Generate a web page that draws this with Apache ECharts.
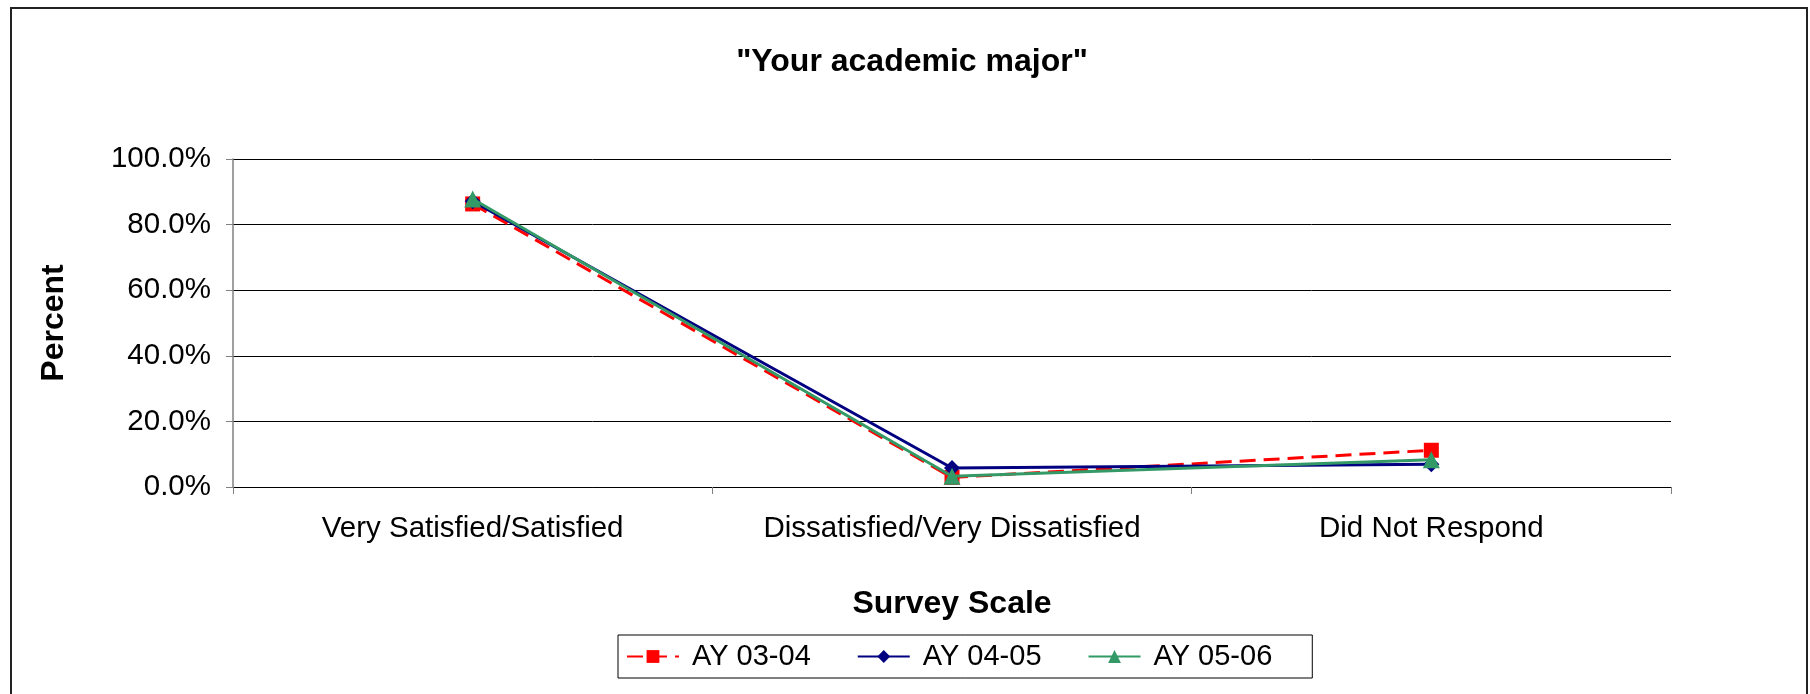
<!DOCTYPE html>
<html>
<head>
<meta charset="utf-8">
<script src="https://cdn.jsdelivr.net/npm/echarts@6/dist/echarts.min.js"></script>
<style>
  html, body { margin: 0; padding: 0; background: #fff; }
  #chart { width: 1810px; height: 694px; }
</style>
</head>
<body>
<div id="chart"></div>
<script>
// survey scale categories
const categories = ['Very Satisfied/Satisfied', 'Dissatisfied/Very Dissatisfied', 'Did Not Respond'];
// percent values per academic year
const ay0304 = [86.3, 2.9, 11.2];
const ay0405 = [87.1, 5.8, 6.9];
const ay0506 = [87.8, 3.3, 8.3];
const yTicks = [0, 20, 40, 60, 80, 100];

const font = '"Liberation Sans", Arial, sans-serif';

const chart = echarts.init(document.getElementById('chart'));

const option = {
  backgroundColor: '#fff',
  animation: false,
  title: {
    text: '"Your academic major"',
    left: 912,
    textAlign: 'center',
    top: 46,
    padding: 0,
    textStyle: { fontFamily: font, fontSize: 32, fontWeight: 'bold', color: '#000' }
  },
  graphic: [{
    type: 'rect',
    shape: { x: 11, y: 8, width: 1796, height: 720 },
    style: { fill: 'none', stroke: '#222', lineWidth: 2 },
    silent: true
  }],
  legend: {
    left: 618,
    top: 635,
    padding: [7, 40, 7, 8],
    itemGap: 46,
    itemWidth: 52,
    itemHeight: 16,
    borderColor: '#000',
    borderWidth: 1,
    textStyle: { fontFamily: font, fontSize: 29, color: '#000', padding: [0, 0, 0, 8] },
    data: ['AY 03-04', 'AY 04-05', 'AY 05-06']
  },
  grid: {
    left: 233,
    right: 1810 - 1671,
    top: 159,
    bottom: 694 - 487
  },
  xAxis: {
    type: 'category',
    data: categories,
    boundaryGap: true,
    name: 'Survey Scale',
    nameLocation: 'middle',
    nameGap: 101,
    nameTextStyle: { fontFamily: font, fontSize: 32, fontWeight: 'bold', color: '#000' },
    axisLine: { lineStyle: { color: '#000', width: 1 } },
    axisTick: { show: true, length: 7, lineStyle: { color: '#808080' } },
    axisLabel: { fontFamily: font, fontSize: 29.5, color: '#000', margin: 27, interval: 0 }
  },
  yAxis: {
    type: 'value',
    min: yTicks[0],
    max: yTicks[yTicks.length - 1],
    interval: 20,
    name: 'Percent',
    nameLocation: 'middle',
    nameRotate: 90,
    nameGap: 163,
    nameTextStyle: { fontFamily: font, fontSize: 32, fontWeight: 'bold', color: '#000' },
    axisLine: { show: true, lineStyle: { color: '#808080', width: 1.5 } },
    axisTick: { show: true, length: 7, lineStyle: { color: '#808080' } },
    axisLabel: {
      fontFamily: font, fontSize: 29.5, color: '#000', margin: 22,
      formatter: v => v.toFixed(1) + '%'
    },
    splitLine: { show: true, lineStyle: { color: '#000', width: 1 } }
  },
  series: [
    {
      name: 'AY 03-04',
      type: 'line',
      data: ay0304,
      symbol: 'rect',
      symbolSize: 15,
      itemStyle: { color: '#FF0000' },
      lineStyle: { color: '#FF0000', width: 3, type: [16, 8] },
      z: 2
    },
    {
      name: 'AY 04-05',
      type: 'line',
      data: ay0405,
      symbol: 'diamond',
      symbolSize: 16,
      itemStyle: { color: '#000080' },
      lineStyle: { color: '#000080', width: 3 },
      z: 3
    },
    {
      name: 'AY 05-06',
      type: 'line',
      data: ay0506,
      symbol: 'triangle',
      symbolSize: 17,
      itemStyle: { color: '#339966' },
      lineStyle: { color: '#339966', width: 3 },
      z: 4
    }
  ]
};

chart.setOption(option);
</script>
</body>
</html>
